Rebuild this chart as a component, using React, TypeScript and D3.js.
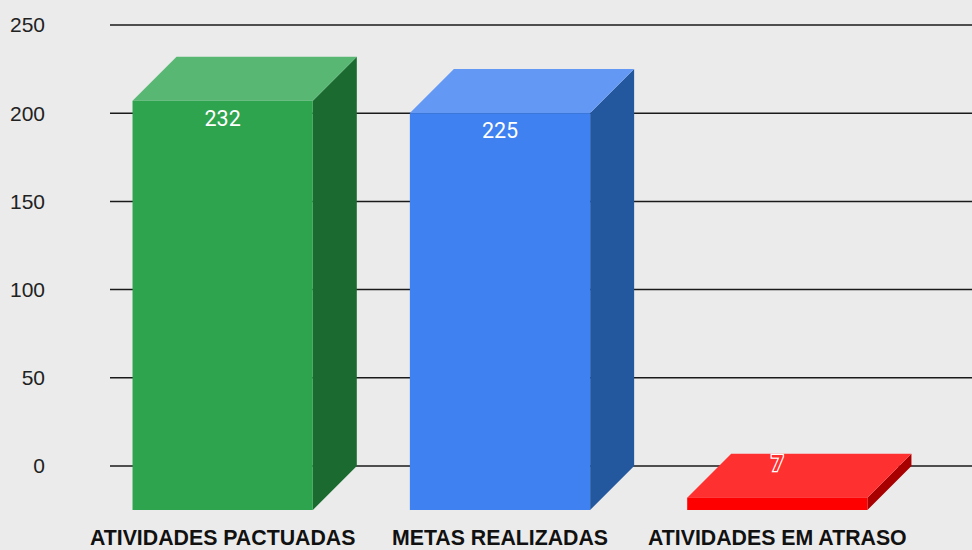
import React, { useEffect, useRef } from "react";
import * as d3 from "d3";

const categories = ["ATIVIDADES PACTUADAS", "METAS REALIZADAS", "ATIVIDADES EM ATRASO"];
const values = [232, 225, 7];
const yTicks = [0, 50, 100, 150, 200, 250];

const frontColors = ["#2fa44f", "#4081f1", "#ff0000"];
const topColors = ["#58b873", "#6399f4", "#ff3030"];
const sideColors = ["#1b6b31", "#23579e", "#a80000"];

const W = 972;
const H = 550;

const App = () => {
  const svgRef = useRef<SVGSVGElement | null>(null);

  useEffect(() => {
    const svg = d3.select(svgRef.current);
    svg.selectAll("*").remove();

    const depth = 44; // oblique offset of the front face (left/down)

    const x = d3
      .scaleBand<string>()
      .domain(categories)
      .range([128, 960])
      .paddingInner(0.35)
      .paddingOuter(0.175);

    const y = d3.scaleLinear().domain([0, 250]).range([466, 25]);

    svg.append("rect").attr("width", W).attr("height", H).attr("fill", "#ebebeb");

    // Gridlines
    svg
      .selectAll(".grid")
      .data(yTicks)
      .enter()
      .append("line")
      .attr("x1", 110)
      .attr("x2", W)
      .attr("y1", (d) => y(d))
      .attr("y2", (d) => y(d))
      .attr("stroke", "#1a1a1a")
      .attr("stroke-width", 1.5);

    // Y tick labels
    svg
      .selectAll(".ytick")
      .data(yTicks)
      .enter()
      .append("text")
      .attr("x", 45)
      .attr("y", (d) => y(d))
      .attr("dy", "0.35em")
      .attr("text-anchor", "end")
      .attr("font-family", "'Liberation Sans', Arial, sans-serif")
      .attr("font-size", "21px")
      .attr("fill", "#222")
      .text((d) => d);

    const bars = svg
      .selectAll(".bar")
      .data(values)
      .enter()
      .append("g")
      .attr("class", "bar");

    const bw = x.bandwidth();
    const small = (d: number) => y(0) - y(d) < 30;
    const frontMid = (i: number) => x(categories[i])! - depth + bw / 2;

    // Side face (right)
    bars
      .append("path")
      .attr("fill", (d, i) => sideColors[i])
      .attr("d", (d, i) => {
        const bx = x(categories[i])!;
        const x0 = bx + bw - depth;
        const x1 = bx + bw;
        return `M${x0},${y(d) + depth}L${x1},${y(d)}L${x1},${y(0)}L${x0},${y(0) + depth}Z`;
      });

    // Top face
    bars
      .append("path")
      .attr("fill", (d, i) => topColors[i])
      .attr("d", (d, i) => {
        const bx = x(categories[i])!;
        return `M${bx - depth},${y(d) + depth}L${bx},${y(d)}L${bx + bw},${y(d)}L${bx + bw - depth},${y(d) + depth}Z`;
      });

    // Front face
    bars
      .append("rect")
      .attr("fill", (d, i) => frontColors[i])
      .attr("x", (d, i) => x(categories[i])! - depth)
      .attr("y", (d) => y(d) + depth)
      .attr("width", bw)
      .attr("height", (d) => y(0) - y(d));

    // Value labels
    bars
      .append("text")
      .attr("x", (d, i) => frontMid(i))
      .attr("y", (d) => (small(d) ? y(d) + 17 : y(d) + depth + 25))
      .attr("text-anchor", "middle")
      .attr("font-family", "Roboto, sans-serif")
      .attr("font-size", "21.5px")
      .attr("fill", (d, i) => (small(d) ? topColors[i] : "#ffffff"))
      .attr("stroke", (d) => (small(d) ? "#ffffff" : "none"))
      .attr("stroke-width", 2.5)
      .attr("paint-order", "stroke")
      .attr("font-weight", (d) => (small(d) ? "bold" : "normal"))
      .text((d) => d);

    // Category labels
    svg
      .selectAll(".xlabel")
      .data(categories)
      .enter()
      .append("text")
      .attr("x", (d, i) => frontMid(i))
      .attr("y", 545)
      .attr("text-anchor", "middle")
      .attr("font-family", "'Liberation Sans', Arial, sans-serif")
      .attr("font-weight", "bold")
      .attr("font-size", "21.3px")
      .attr("fill", "#111")
      .text((d) => d);
  }, []);

  return (
    <svg
      ref={svgRef}
      width={W}
      height={H}
      style={{ position: "fixed", left: 0, top: 0, display: "block" }}
    ></svg>
  );
};

export default App;
